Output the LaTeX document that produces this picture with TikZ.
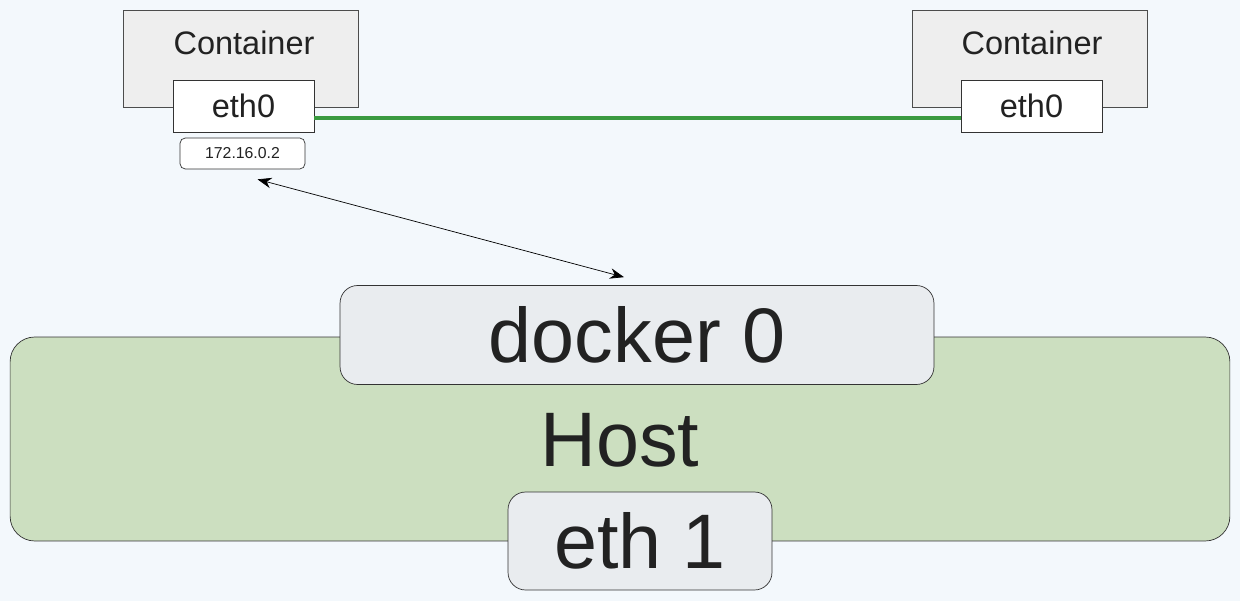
\documentclass[tikz,border=0pt]{standalone}
\usepackage{fontspec}
\setmainfont{Liberation Sans}
\usetikzlibrary{positioning, arrows.meta}
\definecolor{bgblue}{HTML}{F3F8FC}
\definecolor{hostgreen}{HTML}{CCDFC0}
\definecolor{boxgray}{HTML}{E9ECEF}
\definecolor{contgray}{HTML}{EEEEEE}
\definecolor{linkgreen}{HTML}{3A9A40}
\definecolor{ink}{HTML}{222222}
\begin{document}
\begin{tikzpicture}[x=0.02cm, y=-0.02cm, >=stealth, text=ink]
\tikzset{
  cont/.style={draw=black!70, fill=contgray, minimum width=4.7cm, minimum height=1.94cm, inner sep=0pt},
  iface/.style={draw=black!80, fill=white, minimum width=2.82cm, minimum height=1.04cm, inner sep=0pt, font=\fontsize{18.5}{20}\selectfont},
  bigbox/.style={draw=black!80, fill=boxgray, rounded corners=10pt, inner sep=0pt, font=\fontsize{44}{48}\selectfont}
}
\fill[bgblue] (0,0) rectangle (1240,601);
\useasboundingbox (0,0) rectangle (1240,601);
% host
\node[draw=black!80, fill=hostgreen, rounded corners=14pt, minimum width=24.4cm, minimum height=4.08cm, inner sep=0pt] (host) at (620,439) {};
\node[font=\fontsize{44}{48}\selectfont] (hostlabel) at (620,440) {Host};
\node[bigbox, minimum width=11.88cm, minimum height=1.98cm] (docker) at (637,335) {docker 0};
\node[bigbox, minimum width=5.28cm, minimum height=1.96cm] (ethone) at (640,541) {eth 1};
% containers
\node[cont] (contL) at (240.5,58.5) {};
\node[font=\fontsize{18.5}{20}\selectfont] (contLlabel) at (244,43) {Container};
\node[iface] (ethL) at (243.5,106) {eth0};
\node[cont] (contR) at (1029.5,58.5) {};
\node[font=\fontsize{18.5}{20}\selectfont] (contRlabel) at (1032,43) {Container};
\node[iface] (ethR) at (1031.5,106) {eth0};
\node[draw=black!80, fill=white, rounded corners=3pt, minimum width=2.5cm, minimum height=0.62cm, inner sep=0pt, font=\fontsize{9}{10}\selectfont] (ip) at (242.5,153.5) {172.16.0.2};
\draw[linkgreen, line width=2pt] (ethL.east |- 0,118) -- (ethR.west |- 0,118);
\coordinate (a) at ([shift={(15,10)}]ip.south);
\coordinate (b) at ([shift={(-13,-8)}]docker.north);
\draw[<->, thin, >={Stealth[length=8pt,width=6pt]}] (a) -- (b);
\end{tikzpicture}
\end{document}
